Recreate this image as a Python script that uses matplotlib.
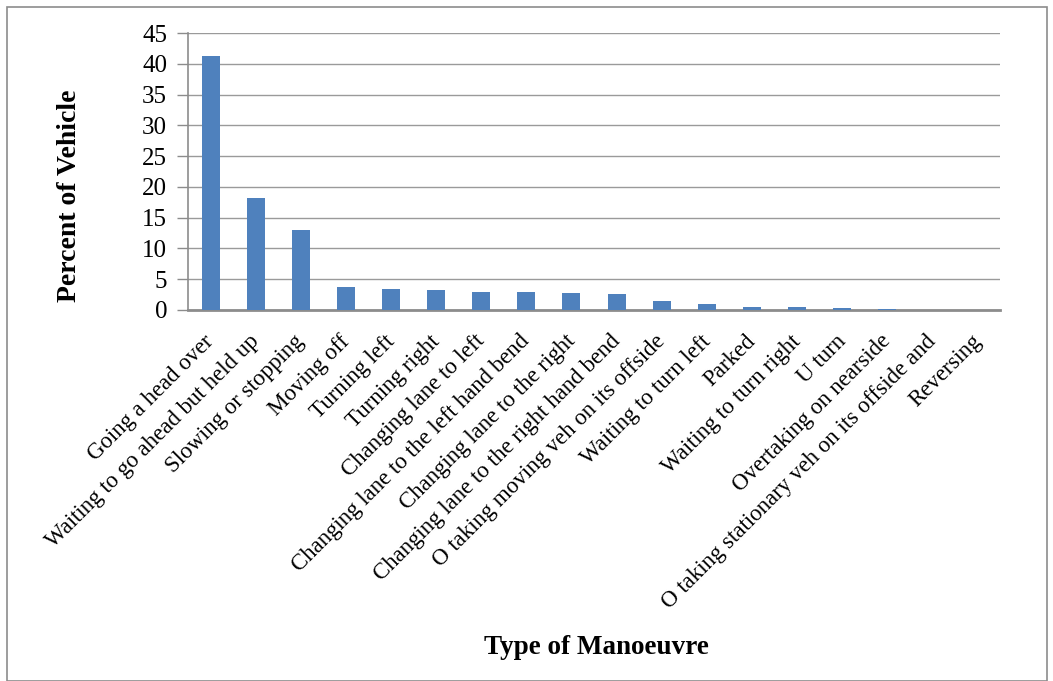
import matplotlib
matplotlib.use("Agg")
import matplotlib.pyplot as plt
from matplotlib.patches import Rectangle
from matplotlib.transforms import ScaledTranslation

categories = [
    "Going a head over",
    "Waiting to go ahead but held up",
    "Slowing or stopping",
    "Moving off",
    "Turning left",
    "Turning right",
    "Changing lane to left",
    "Changing lane to the left hand bend",
    "Changing lane to the right",
    "Changing lane to the right hand bend",
    "O taking moving veh on its offside",
    "Waiting to turn left",
    "Parked",
    "Waiting to turn right",
    "U turn",
    "Overtaking on nearside",
    "O taking stationary veh on its offside and",
    "Reversing",
]
percent = [41.3, 18.2, 13.0, 3.8, 3.35, 3.3, 3.0, 2.85, 2.75, 2.65,
           1.4, 1.05, 0.55, 0.55, 0.28, 0.22, 0.0, 0.0]
yticks = [0, 5, 10, 15, 20, 25, 30, 35, 40, 45]

plt.rcParams["font.family"] = ["Liberation Serif", "DejaVu Serif"]

W, H = 1053, 681
fig = plt.figure(figsize=(W / 100, H / 100), dpi=100)
ax = fig.add_axes([188 / W, 1 - 310 / H, (1000 - 188) / W, (310 - 33) / H])

x = list(range(len(categories)))
ax.bar(x, percent, width=0.4, color="#4f81bd", zorder=3)

ax.set_xlim(-0.5, len(categories) - 0.5)
ax.set_ylim(0, 45)
ax.set_yticks(yticks)
ax.set_yticklabels([str(v) for v in yticks], fontsize=18)
ax.yaxis.grid(True, color="#9a9a9a", linewidth=1.0, zorder=0)
ax.tick_params(axis="y", length=8, width=1, color="#8c8c8c", pad=7)
ax.tick_params(axis="x", length=0, pad=2)

for side in ("top", "right"):
    ax.spines[side].set_visible(False)
ax.spines["left"].set_color("#8c8c8c")
ax.spines["left"].set_linewidth(1.2)
ax.spines["bottom"].set_color("#8c8c8c")
ax.spines["bottom"].set_linewidth(2.0)

ax.set_xticks(x)
ax.set_xticklabels(categories, rotation=45, ha="right", rotation_mode="anchor",
                   fontsize=16.5)
for lbl in ax.get_xticklabels():
    lbl.set_transform(lbl.get_transform() + ScaledTranslation(-0.07, -0.18, fig.dpi_scale_trans))

fig.text(69 / W, 1 - 196 / H, "Percent of Vehicle", fontsize=20, fontweight="bold",
         rotation=90, ha="center", va="center")
fig.text(596 / W, 1 - 648 / H, "Type of Manoeuvre", fontsize=19.5, fontweight="bold",
         ha="center", va="center")

# outer frame of the chart area
fig.patches.append(Rectangle((7 / W, 1 - 681 / H), (1047 - 7) / W, (681 - 7) / H,
                             transform=fig.transFigure, fill=False,
                             edgecolor="#8c8c8c", linewidth=1.2))

fig.savefig("out.png", dpi=100)
